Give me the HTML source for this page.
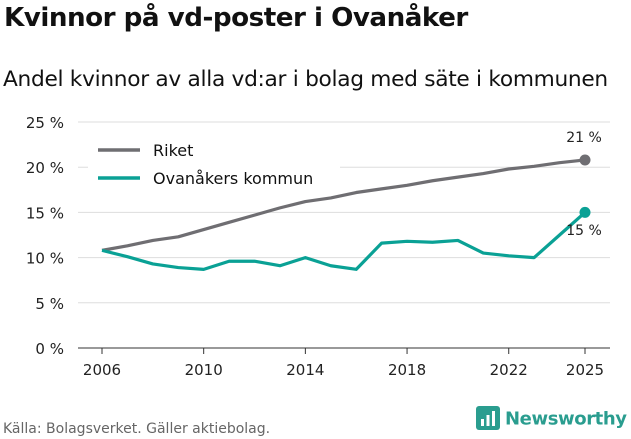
<!DOCTYPE html>
<html><head><meta charset="utf-8">
<style>
body{margin:0;width:631px;height:439px;background:#fff;font-family:"Liberation Sans","DejaVu Sans",sans-serif;overflow:hidden;position:relative}
h1{position:absolute;left:4px;top:3px;margin:0;font-size:26.2px;font-weight:bold;color:#111;font-family:"DejaVu Sans","Liberation Sans",sans-serif;letter-spacing:-0.5px;white-space:nowrap}
h2{position:absolute;left:3px;top:67px;margin:0;font-size:21.7px;font-weight:normal;color:#111;font-family:"DejaVu Sans","Liberation Sans",sans-serif;letter-spacing:-0.3px;white-space:nowrap}
#src{position:absolute;left:3px;top:421px;font-size:14px;color:#666;font-family:"DejaVu Sans",sans-serif;white-space:nowrap}
#logo{position:absolute;left:476px;top:406px;font-size:18px;font-weight:bold;color:#2a9d8f;font-family:"DejaVu Sans",sans-serif;white-space:nowrap;width:160px;letter-spacing:-0.4px}
svg{position:absolute;left:0;top:0}
text{font-family:"DejaVu Sans","Liberation Sans",sans-serif}
</style></head><body>
<h1>Kvinnor på vd-poster i Ovanåker</h1>
<h2>Andel kvinnor av alla vd:ar i bolag med säte i kommunen</h2>
<svg id="c" width="631" height="439"></svg>
<div id="src">Källa: Bolagsverket. Gäller aktiebolag.</div>
<div id="logo"><svg width="24" height="26" style="position:relative;vertical-align:middle;margin-right:5px"><rect x="0" y="0" width="24" height="24" rx="3" fill="#2a9d8f"/><rect x="5" y="13" width="3" height="7" fill="#fff"/><rect x="10.5" y="9" width="3" height="11" fill="#fff"/><rect x="16" y="5" width="3" height="15" fill="#fff"/></svg><span style="vertical-align:middle">Newsworthy</span></div>
<script>
const years=[2006,2007,2008,2009,2010,2011,2012,2013,2014,2015,2016,2017,2018,2019,2020,2021,2022,2023,2024,2025];
const riket=[10.8,11.3,11.9,12.3,13.1,13.9,14.7,15.5,16.2,16.6,17.2,17.6,18.0,18.5,18.9,19.3,19.8,20.1,20.5,20.8];
const ovanaker=[10.8,10.1,9.3,8.9,8.7,9.6,9.6,9.1,10.0,9.1,8.7,11.6,11.8,11.7,11.9,10.5,10.2,10.0,12.5,15.0];
const yTicks=[0,5,10,15,20,25];
const xTicks=[2006,2010,2014,2018,2022,2025];
const svg=document.getElementById('c');const NS='http://www.w3.org/2000/svg';
const x=v=>102+(v-2006)*(585-102)/19;
const y=v=>348-v*(348-122)/25;
function mk(t,a,p){const e=document.createElementNS(NS,t);for(const k in a)e.setAttribute(k,a[k]);(p||svg).appendChild(e);return e;}
yTicks.forEach(t=>{
 const l=mk('line',{x1:78,x2:610,y1:y(t),y2:y(t),stroke:t===0?'#333':'#ddd','stroke-width':1});
 
 
 const tx=mk('text',{x:64,y:y(t)+6,'text-anchor':'end','font-size':15,fill:'#222'});tx.textContent=t+' %';
 
 
});
xTicks.forEach(t=>{
 const l=mk('line',{x1:x(t),x2:x(t),y1:348,y2:354,stroke:'#333'});
 
 
 const tx=mk('text',{x:x(t),y:375,'text-anchor':'middle','font-size':15,fill:'#222'});tx.textContent=t;
 
 
});
const lg=mk('rect',{x:88,y:132,width:252,height:60,fill:'#fff'});


function series(vals,color,name){
 const d=vals.map((v,i)=>(i?'L':'M')+x(years[i])+','+y(v)).join('');
 const p=mk('path',{d:d,fill:'none',stroke:color,'stroke-width':3.2,'stroke-linejoin':'round'});
 
 
 const n=vals.length-1;
 const c=mk('circle',{cx:x(years[n]),cy:y(vals[n]),r:5.5,fill:color});
 
 
}
series(riket,'#6f6e72','riket');
series(ovanaker,'#0aa195','ovanaker');
const t1=mk('text',{x:584,y:142,'text-anchor':'middle','font-size':14,fill:'#222'});t1.textContent=Math.round(riket[riket.length-1])+' %';


const t2=mk('text',{x:584,y:235,'text-anchor':'middle','font-size':14,fill:'#222'});t2.textContent=Math.round(ovanaker[ovanaker.length-1])+' %';


[['Riket','#6f6e72',150],['Ovanåkers kommun','#0aa195',178]].forEach(([n,c,yy])=>{
 const l=mk('line',{x1:98,x2:140,y1:yy,y2:yy,stroke:c,'stroke-width':3.5});
 
 
 const t=mk('text',{x:153,y:yy+6,'font-size':16,fill:'#111'});t.textContent=n;
 
 
});
</script>
</body></html>
